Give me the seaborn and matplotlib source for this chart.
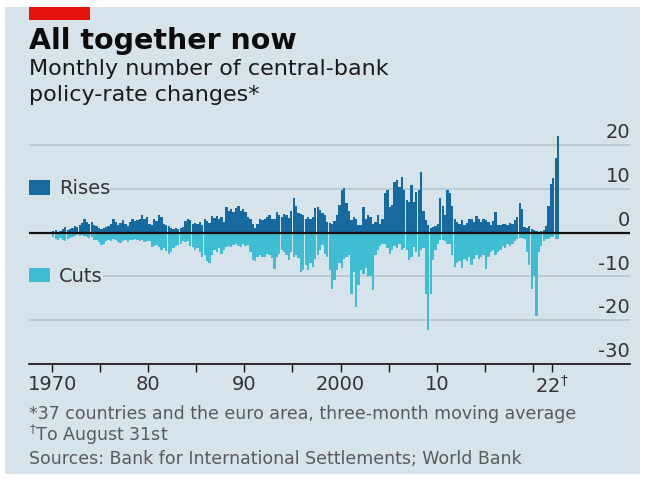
import numpy as np
import pandas as pd
import matplotlib
matplotlib.use("Agg")
import matplotlib.pyplot as plt
import seaborn as sns
from matplotlib.patches import Patch, Rectangle
from matplotlib.transforms import offset_copy

# ---------------- data (quarterly) ----------------
start_year = 1970
rises = [
    0.3, 0.5, 0.2, 0.4,    # 1970
    0.8, 1.2, 0.6, 0.9,    # 1971
    1.0, 1.5, 1.2, 1.8,    # 1972
    2.2, 3.0, 2.5, 2.0,    # 1973
    2.4, 1.8, 1.5, 1.0,    # 1974
    0.8, 1.0, 1.2, 1.6,    # 1975
    2.0, 3.0, 2.4, 1.8,    # 1976
    2.2, 2.8, 2.0, 1.6,    # 1977
    2.4, 3.0, 2.6, 2.9,    # 1978
    3.2, 4.0, 3.0, 3.6,    # 1979
    2.0, 1.8, 3.0, 2.6,    # 1980
    4.0, 3.5, 2.0, 1.8,    # 1981
    1.5, 1.0, 0.8, 1.0,    # 1982
    0.9, 1.0, 1.2, 2.6,    # 1983
    3.0, 2.8, 2.0, 2.2,    # 1984
    2.0, 2.4, 1.8, 3.0,    # 1985
    2.6, 2.2, 3.8, 3.4,    # 1986
    3.8, 3.0, 3.6, 2.4,    # 1987
    5.9, 5.0, 5.5, 4.8,    # 1988
    5.6, 6.0, 5.0, 5.4,    # 1989
    4.6, 3.6, 3.2, 2.0,    # 1990
    1.0, 2.0, 3.0, 2.8,    # 1991
    3.0, 3.5, 4.0, 3.2,    # 1992
    3.0, 4.8, 4.0, 3.6,    # 1993
    4.2, 4.0, 3.4, 5.0,    # 1994
    7.8, 6.0, 4.4, 4.2,    # 1995
    4.0, 3.0, 3.6, 3.2,    # 1996
    3.6, 5.6, 5.9, 5.2,    # 1997
    4.4, 4.0, 2.5, 2.2,    # 1998
    2.0, 2.6, 4.0, 6.3,    # 1999
    9.7, 10.2, 6.7, 5.0,   # 2000
    2.9, 3.6, 3.0, 1.7,    # 2001
    1.8, 5.9, 3.2, 4.0,    # 2002
    3.6, 2.0, 2.4, 4.0,    # 2003
    2.0, 3.0, 9.0, 9.8,    # 2004
    5.9, 6.4, 11.6, 12.0,  # 2005
    10.5, 12.8, 9.7, 7.4,  # 2006
    7.0, 10.9, 7.0, 9.3,   # 2007
    9.8, 13.9, 5.0, 2.9,   # 2008
    1.7, 1.0, 1.2, 1.5,    # 2009
    2.0, 7.8, 6.0, 4.0,    # 2010
    9.7, 9.0, 6.0, 3.0,    # 2011
    2.5, 2.0, 2.8, 1.7,    # 2012
    2.2, 3.0, 3.2, 2.4,    # 2013
    3.7, 3.0, 2.4, 3.2,    # 2014
    2.9, 2.4, 1.8, 2.6,    # 2015
    4.8, 1.7, 1.8, 2.0,    # 2016
    2.0, 1.8, 2.2, 2.0,    # 2017
    2.9, 3.5, 6.7, 5.5,    # 2018
    1.3, 1.0, 1.4, 0.8,    # 2019
    0.6, 0.3, 0.2, 0.3,    # 2020
    0.5, 1.4, 6.0, 11.0,   # 2021
    12.5, 17.0, 22.0,      # 2022 (to August)
]
cuts = [
    1.0, 1.5, 1.8, 1.2,    # 1970
    1.7, 2.0, 1.5, 1.2,    # 1971
    1.0, 0.8, 0.6, 0.8,    # 1972
    0.6, 0.8, 1.0, 1.2,    # 1973
    1.0, 1.6, 1.8, 2.2,    # 1974
    2.9, 2.5, 2.0, 1.8,    # 1975
    2.0, 1.5, 1.6, 2.2,    # 1976
    2.4, 2.0, 1.8, 2.2,    # 1977
    1.6, 1.7, 1.5, 1.8,    # 1978
    2.0, 1.8, 2.2, 2.0,    # 1979
    2.0, 3.2, 3.0, 2.8,    # 1980
    3.2, 4.0, 3.5, 4.2,    # 1981
    4.8, 4.5, 3.6, 3.0,    # 1982
    2.9, 2.6, 2.0, 2.2,    # 1983
    2.0, 3.0, 3.2, 4.0,    # 1984
    3.5, 4.5, 5.5, 5.0,    # 1985
    6.5, 7.0, 5.0, 4.0,    # 1986
    4.5, 3.5, 4.8, 4.0,    # 1987
    3.3, 3.0, 3.2, 2.8,    # 1988
    2.5, 3.0, 3.3, 2.6,    # 1989
    3.0, 2.8, 4.5, 6.3,    # 1990
    6.5, 5.5, 5.0, 5.5,    # 1991
    5.5, 4.8, 5.2, 5.8,    # 1992
    8.2, 5.5, 4.8, 4.0,    # 1993
    4.5, 5.0, 6.3, 4.5,    # 1994
    5.5, 5.0, 5.8, 9.0,    # 1995
    8.6, 7.5, 8.5, 7.0,    # 1996
    7.8, 6.0, 5.0, 4.0,    # 1997
    2.8, 4.8, 5.5, 8.6,    # 1998
    12.8, 10.9, 8.6, 7.0,  # 1999
    8.0, 6.0, 5.5, 5.0,    # 2000
    14.0, 9.0, 17.0, 12.0, # 2001
    8.6, 9.5, 8.0, 10.0,   # 2002
    10.0, 13.0, 5.0, 4.0,  # 2003
    3.0, 2.5, 2.5, 3.5,    # 2004
    4.8, 4.0, 3.0, 3.5,    # 2005
    2.5, 4.0, 3.5, 4.0,    # 2006
    6.3, 5.5, 3.2, 4.5,    # 2007
    5.5, 4.0, 3.5, 14.0,   # 2008
    22.3, 14.0, 6.3, 4.0,  # 2009
    2.5, 1.7, 1.7, 2.0,    # 2010
    2.5, 2.5, 5.0, 7.8,    # 2011
    7.0, 6.5, 8.0, 6.0,    # 2012
    6.5, 5.5, 7.5, 6.0,    # 2013
    5.0, 6.0, 5.5, 5.0,    # 2014
    8.2, 5.5, 4.5, 4.0,    # 2015
    5.0, 4.5, 4.0, 3.0,    # 2016
    3.5, 2.5, 3.0, 2.5,    # 2017
    2.0, 1.5, 1.3, 1.3,    # 2018
    1.5, 4.4, 7.4, 12.8,   # 2019
    10.0, 19.0, 4.4, 3.0,  # 2020
    2.0, 1.5, 1.4, 1.0,    # 2021
    1.0, 1.4, 1.5,         # 2022 (to August)
]
tick_years = [1970, 1975, 1980, 1985, 1990, 1995, 2000, 2005, 2010, 2015, 2020, 2022]
tick_labels = ["1970", "", "80", "", "90", "", "2000", "", "10", "", "", r"22$^{\dagger}$"]
y_ticks = [-30, -20, -10, 0, 10, 20]

# ---------------- style ----------------
BG = "#D7E3EB"
RISE = "#176A9F"
CUT = "#3FBED3"
GRID = "#B4C3CD"
DARK = "#111111"

sns.set_theme(style="white")
plt.rcParams["font.family"] = ["DejaVu Sans"]

W, H = 645, 479
fig = plt.figure(figsize=(W / 100, H / 100), dpi=100)
fig.patch.set_facecolor("white")
fig.patches.append(Rectangle((5 / W, 5 / H), 635 / W, 467 / H, transform=fig.transFigure,
                             facecolor=BG, edgecolor="none", zorder=-10))
fig.patches.append(Rectangle((29 / W, 1 - 20 / H), 61 / W, 13 / H, transform=fig.transFigure,
                             facecolor="#E3120B", edgecolor="none", zorder=-5))

ax = fig.add_axes([29 / W, 1 - 364 / H, 601 / W, (364 - 129.7) / H])
ax.set_facecolor("none")

n = len(rises)
xpos = start_year + 0.125 + 0.25 * np.arange(n)
df = pd.DataFrame({"x": xpos, "rises": rises, "cuts": -np.array(cuts)})

sns.barplot(data=df, x="x", y="rises", native_scale=True, color=RISE, saturation=1,
            width=0.96, linewidth=0, errorbar=None, ax=ax, zorder=2)
sns.barplot(data=df, x="x", y="cuts", native_scale=True, color=CUT, saturation=1,
            width=0.96, linewidth=0, errorbar=None, ax=ax, zorder=2)

ax.set_xlim(1967.6, 2030.1)
ax.set_ylim(-30, 23.5)
ax.set_xlabel("")
ax.set_ylabel("")

ax.set_yticks(y_ticks)
ax.yaxis.grid(True, color=GRID, lw=1.1)
ax.xaxis.grid(False)
ax.set_axisbelow(True)
ax.tick_params(axis="y", left=False, right=False, labelleft=False, labelright=False)
ax.axhline(0, color=DARK, lw=1.6, zorder=4)

for v in y_ticks:
    ax.text(1.0, v, str(v), transform=offset_copy(ax.get_yaxis_transform(), fig=fig, y=2, units="points"),
            ha="right", va="bottom", fontsize=14, color="#333333")

ax.set_xticks(tick_years)
ax.set_xticklabels(tick_labels)
ax.tick_params(axis="x", bottom=True, direction="out", length=6, width=1, color=DARK,
               labelsize=14, labelcolor="#333333", pad=2)

for s in ["top", "left", "right"]:
    ax.spines[s].set_visible(False)
ax.spines["bottom"].set_color(DARK)
ax.spines["bottom"].set_linewidth(1.2)

for label, col, yv in [("Rises", RISE, 10), ("Cuts", CUT, -10)]:
    leg = ax.legend(handles=[Patch(facecolor=col, edgecolor="none", label=label)],
                    loc="center left", bbox_to_anchor=(0, yv),
                    bbox_transform=ax.get_yaxis_transform(), frameon=True,
                    facecolor=BG, edgecolor="none", framealpha=1, fontsize=14,
                    handlelength=1.1, handleheight=0.75, borderpad=0.0,
                    borderaxespad=0, handletextpad=0.45, fancybox=False)
    leg.get_frame().set_linewidth(0)
    for t in leg.get_texts():
        t.set_color("#333333")
    ax.add_artist(leg)

fig.text(29 / W, 1 - 49 / H, "All together now", fontsize=20.5, fontweight="bold",
         color="#0C0C0C", va="baseline")
fig.text(29 / W, 1 - 75 / H, "Monthly number of central-bank", fontsize=16,
         color="#1A1A1A", va="baseline")
fig.text(29 / W, 1 - 101 / H, "policy-rate changes*", fontsize=16,
         color="#1A1A1A", va="baseline")

fig.text(29 / W, 1 - 419 / H, "*37 countries and the euro area, three-month moving average",
         fontsize=12.5, color="#5A5A5A", va="baseline")
fig.text(29 / W, 1 - 441 / H, r"$^{\dagger}$To August 31st",
         fontsize=12.5, color="#5A5A5A", va="baseline")
fig.text(29 / W, 1 - 464 / H, "Sources: Bank for International Settlements; World Bank",
         fontsize=12.5, color="#5A5A5A", va="baseline")

fig.savefig("out.png", dpi=100, facecolor=fig.get_facecolor())
